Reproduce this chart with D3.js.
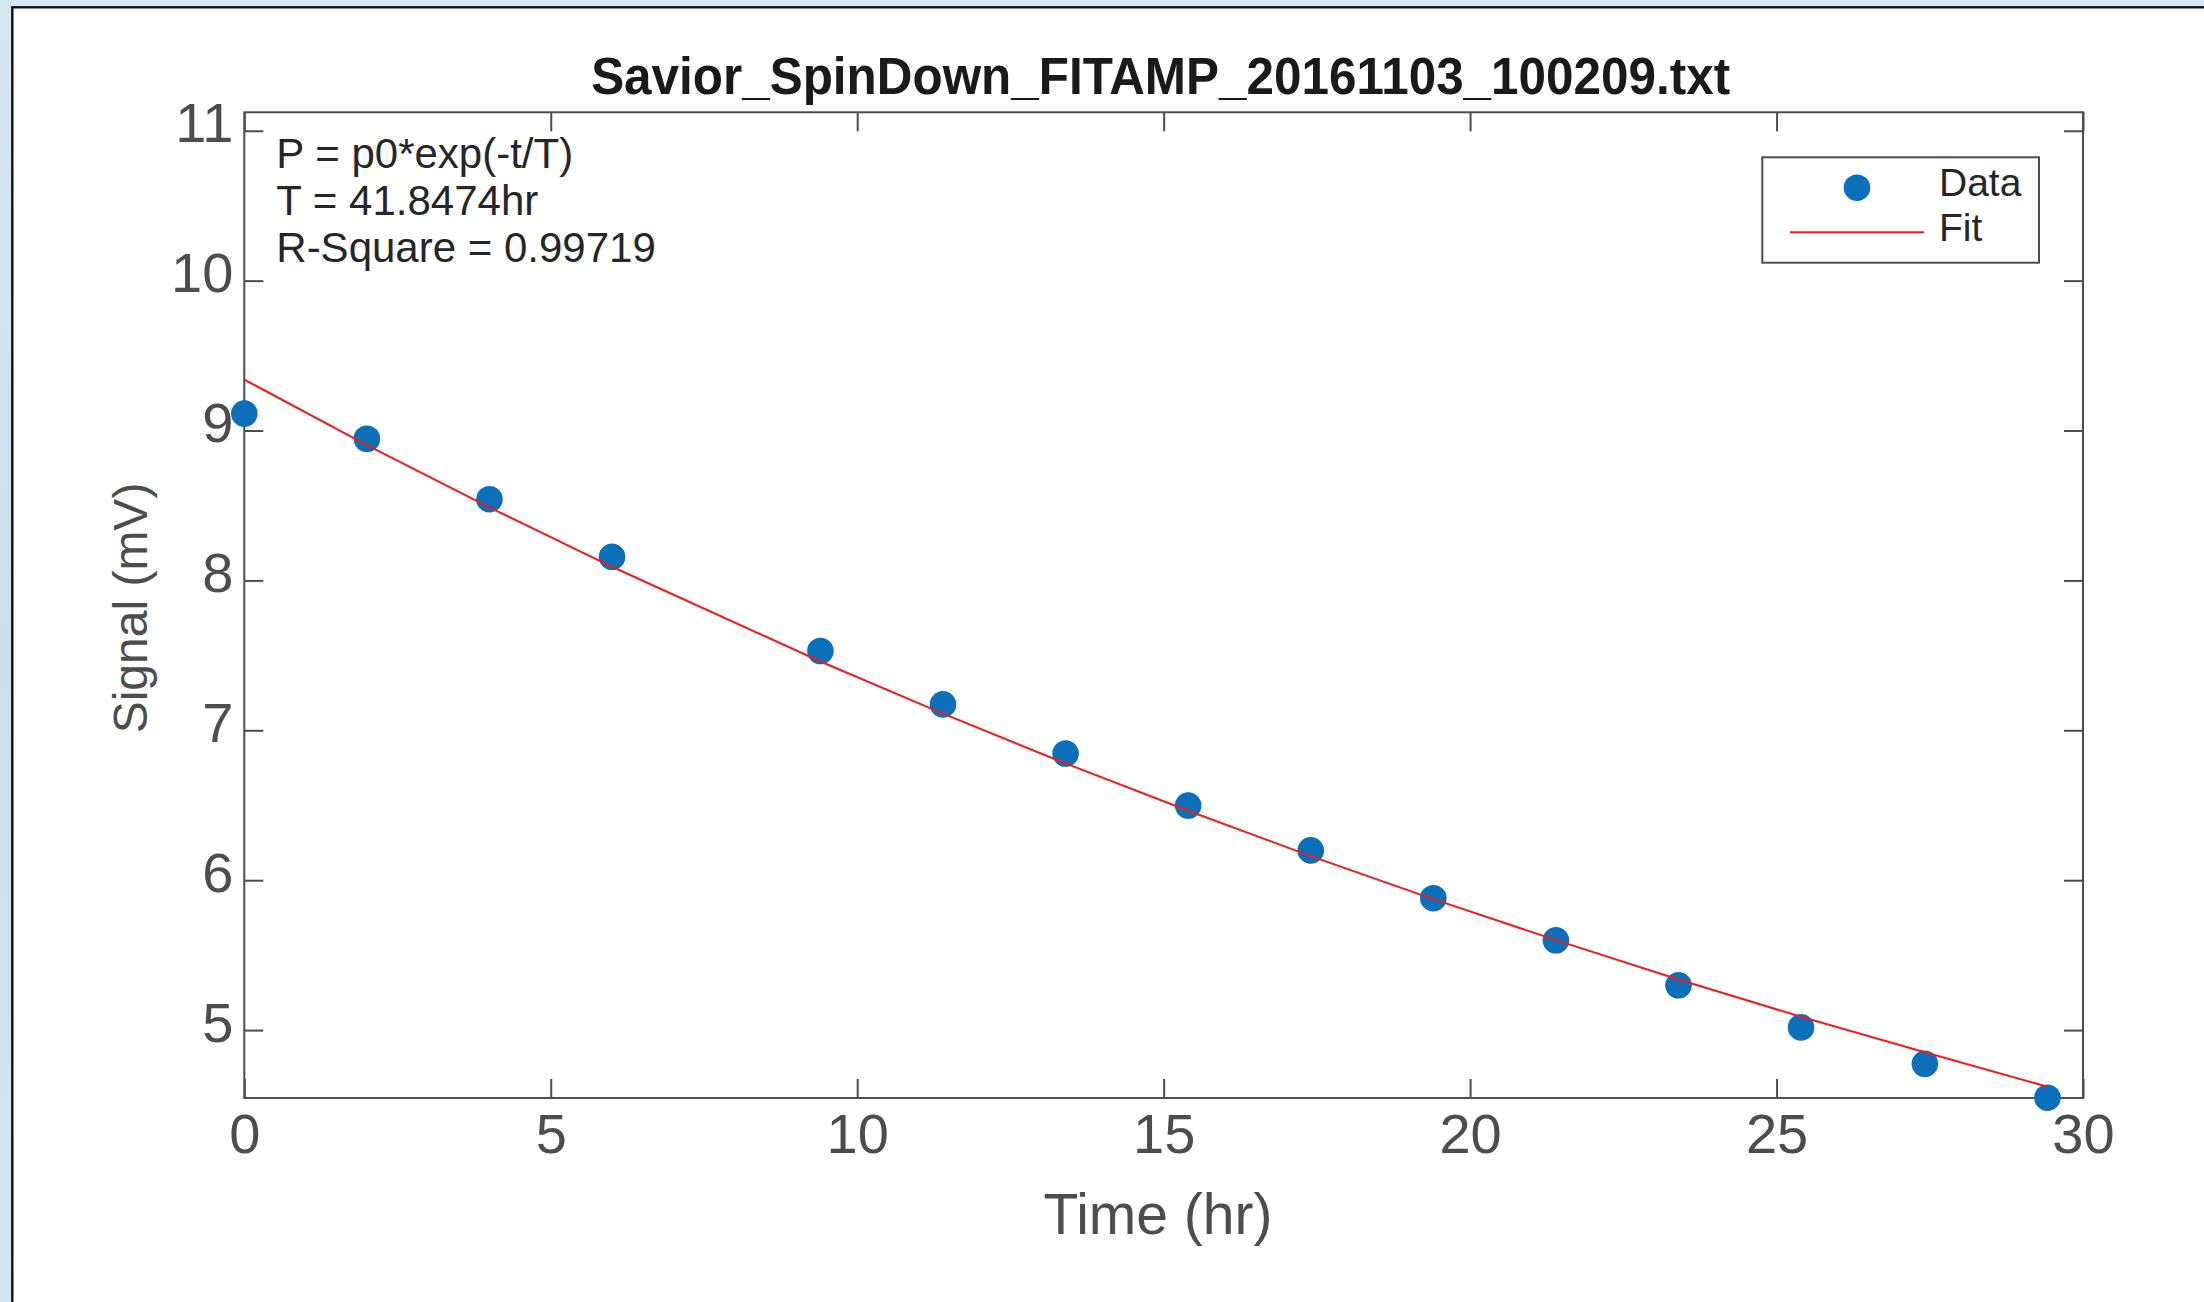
<!DOCTYPE html>
<html>
<head>
<meta charset="utf-8">
<script src="https://cdn.jsdelivr.net/npm/d3@7"></script>
<style>
  body { margin: 0; padding: 0; overflow: hidden; }
  svg { display: block; }
</style>
</head>
<body>
<div id="chart"></div>
<script>
// Data
var timeHr = [0, 2, 4, 6, 9.4, 11.4, 13.4, 15.4, 17.4, 19.4, 21.4, 23.4, 25.4, 27.42, 29.42];
var signalMv = [9.113, 8.945, 8.542, 8.157, 7.529, 7.173, 6.845, 6.498, 6.199, 5.880, 5.599, 5.299, 5.018, 4.775, 4.549];
var fitMv = [9.34, 8.902, 8.487, 8.091, 7.459, 7.111, 6.779, 6.463, 6.161, 5.874, 5.600, 5.338, 5.089, 4.852, 4.622];
var xTicks = [0, 5, 10, 15, 20, 25, 30];
var yTicks = [5, 6, 7, 8, 9, 10, 11];
var fitText = ["P = p0*exp(-t/T)", "T = 41.8474hr", "R-Square = 0.99719"];
var legendLabels = ["Data", "Fit"];
var titleText = "Savior_SpinDown_FITAMP_20161103_100209.txt";

//Establishing SVG Height and Width
var svgWidth = 2204;
var svgHeight = 1302;

//Plot box inside the window
var margin = { top: 112.3, right: 121, bottom: 204, left: 244.3 };
var width = svgWidth - margin.left - margin.right;
var height = svgHeight - margin.top - margin.bottom;

var axisColor = "#4d4d4d";
var fontFamily = "'Liberation Sans', Arial, Helvetica, sans-serif";

var svg = d3.select("#chart")
  .append("svg")
  .attr("width", svgWidth)
  .attr("height", svgHeight);

// window background and frame
var defs = svg.append("defs");
var grad = defs.append("linearGradient")
  .attr("id", "bg")
  .attr("x1", 0).attr("y1", 0).attr("x2", 0).attr("y2", 1);
grad.append("stop").attr("offset", "0%").attr("stop-color", "#d6e7f0");
grad.append("stop").attr("offset", "50%").attr("stop-color", "#cbdfea");
grad.append("stop").attr("offset", "100%").attr("stop-color", "#d3e5ee");

svg.append("rect")
  .attr("width", svgWidth)
  .attr("height", svgHeight)
  .attr("fill", "url(#bg)");

svg.append("rect")
  .attr("x", 12.3)
  .attr("y", 7.3)
  .attr("width", svgWidth + 20)
  .attr("height", svgHeight + 20)
  .attr("fill", "#ffffff")
  .attr("stroke", "#111111")
  .attr("stroke-width", 2.4);

var chartGroup = svg.append("g")
  .attr("transform", `translate(${margin.left}, ${margin.top})`);

// Scales
var xScale = d3.scaleLinear()
  .domain([0, 30])
  .range([0, width]);

var yScale = d3.scaleLinear()
  .domain([4.547, 11.123])
  .range([height, 0]);

// Axes, ticks point inward like matlab
var bottomAxis = d3.axisBottom(xScale).tickValues(xTicks).tickFormat(d3.format("d"))
  .tickSize(-19).tickSizeOuter(0).tickPadding(0);
var topAxis = d3.axisTop(xScale).tickValues(xTicks).tickSize(-19).tickSizeOuter(0).tickFormat("");
var leftAxis = d3.axisLeft(yScale).tickValues(yTicks).tickFormat(d3.format("d"))
  .tickSize(-19).tickSizeOuter(0).tickPadding(11);
var rightAxis = d3.axisRight(yScale).tickValues(yTicks).tickSize(-19).tickSizeOuter(0).tickFormat("");

var xAxisG = chartGroup.append("g")
  .attr("transform", `translate(0, ${height})`)
  .call(bottomAxis);

chartGroup.append("g").call(topAxis);

var yAxisG = chartGroup.append("g").call(leftAxis);

chartGroup.append("g")
  .attr("transform", `translate(${width}, 0)`)
  .call(rightAxis);

chartGroup.selectAll(".domain").remove();
chartGroup.selectAll(".tick line")
  .attr("stroke", axisColor)
  .attr("stroke-width", 2);

xAxisG.selectAll("text")
  .attr("y", 55)
  .attr("dy", null)
  .attr("fill", axisColor)
  .style("font-family", fontFamily)
  .style("font-size", "56px");

yAxisG.selectAll("text")
  .attr("y", 11)
  .attr("dy", null)
  .attr("fill", axisColor)
  .style("font-family", fontFamily)
  .style("font-size", "56px");

// box round the plot
chartGroup.append("rect")
  .attr("x", 0)
  .attr("y", 0)
  .attr("width", width)
  .attr("height", height)
  .attr("fill", "none")
  .attr("stroke", axisColor)
  .attr("stroke-width", 2);

// Data points
var points = timeHr.map(function(t, i) {
  return { t: t, s: signalMv[i], f: fitMv[i] };
});

chartGroup.selectAll("circle.data")
  .data(points)
  .enter()
  .append("circle")
  .attr("class", "data")
  .attr("cx", d => xScale(d.t))
  .attr("cy", d => yScale(d.s))
  .attr("r", 13.3)
  .attr("fill", "#0b6fba");

// Fit line on top
var fitLine = d3.line()
  .x(d => xScale(d.t))
  .y(d => yScale(d.f));

chartGroup.append("path")
  .datum(points)
  .attr("d", fitLine)
  .attr("fill", "none")
  .attr("stroke", "#f01c1c")
  .attr("stroke-width", 2);

// fit text in the top left corner
chartGroup.selectAll("text.fit")
  .data(fitText)
  .enter()
  .append("text")
  .attr("class", "fit")
  .attr("x", 32)
  .attr("y", (d, i) => 56 + i * 47)
  .attr("fill", "#262626")
  .style("font-family", fontFamily)
  .style("font-size", "42px")
  .text(d => d);

// Legend
var legend = svg.append("g");

legend.append("rect")
  .attr("x", 1762.3)
  .attr("y", 157.3)
  .attr("width", 276.7)
  .attr("height", 105.4)
  .attr("fill", "#ffffff")
  .attr("stroke", axisColor)
  .attr("stroke-width", 2);

legend.append("circle")
  .attr("cx", 1857)
  .attr("cy", 187.7)
  .attr("r", 13.3)
  .attr("fill", "#0b6fba");

legend.append("line")
  .attr("x1", 1790)
  .attr("x2", 1924)
  .attr("y1", 232.3)
  .attr("y2", 232.3)
  .attr("stroke", "#f01c1c")
  .attr("stroke-width", 2);

legend.selectAll("text")
  .data(legendLabels)
  .enter()
  .append("text")
  .attr("x", 1939)
  .attr("y", (d, i) => 196 + i * 44.7)
  .attr("fill", "#262626")
  .style("font-family", fontFamily)
  .style("font-size", "39px")
  .text(d => d);

// Title
svg.append("text")
  .attr("x", margin.left + width / 2 - 3)
  .attr("y", 94)
  .attr("text-anchor", "middle")
  .attr("fill", "#1a1a1a")
  .attr("textLength", 1139)
  .attr("lengthAdjust", "spacingAndGlyphs")
  .style("font-family", fontFamily)
  .style("font-weight", "bold")
  .style("font-size", "51px")
  .text(titleText);

// x axis label
svg.append("text")
  .attr("x", 1158)
  .attr("y", 1234)
  .attr("text-anchor", "middle")
  .attr("fill", axisColor)
  .style("font-family", fontFamily)
  .style("font-size", "57px")
  .text("Time (hr)");

// y axis label
svg.append("text")
  .attr("transform", "translate(147, 608) rotate(-90)")
  .attr("text-anchor", "middle")
  .attr("fill", axisColor)
  .style("font-family", fontFamily)
  .style("font-size", "48px")
  .text("Signal (mV)");
</script>
</body>
</html>
